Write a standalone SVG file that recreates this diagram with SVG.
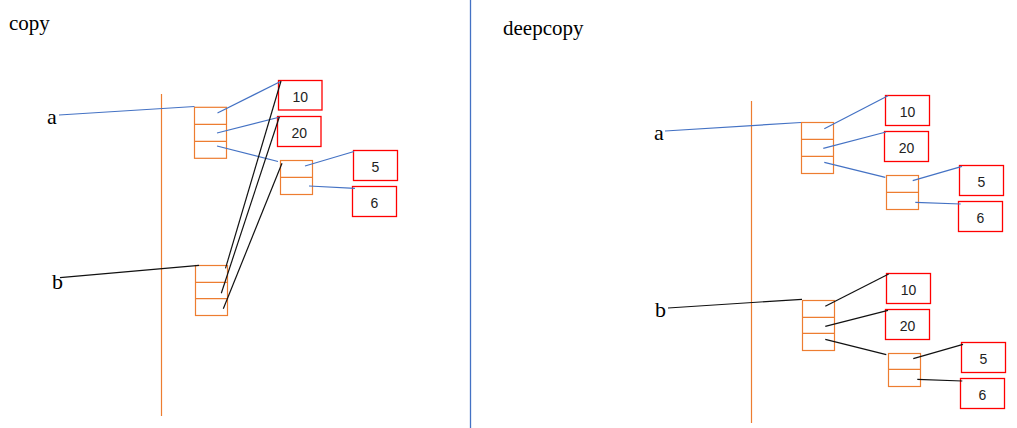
<svg xmlns="http://www.w3.org/2000/svg" width="1017" height="428" viewBox="0 0 1017 428">
<style>
.title{font-family:"Liberation Serif",serif;font-size:21px;fill:#000}
.var{font-family:"Liberation Serif",serif;font-size:22px;fill:#000}
.val{font-family:"Liberation Sans",sans-serif;font-size:14px;fill:#222;text-anchor:middle}
.box{fill:#fff;stroke:#FF0000;stroke-width:1.3}
.cell{fill:#fff;stroke:#ED7D31;stroke-width:1.2}
.div{stroke:#ED7D31;stroke-width:1.2}
.stack{stroke:#ED7D31;stroke-width:1.2}
.blue{stroke:#4472C4;stroke-width:1.2;fill:none}
.black{stroke:#111;stroke-width:1.2;fill:none}
</style>
<rect width="1017" height="428" fill="#fff"/>
<line x1="470.5" y1="0" x2="470.5" y2="428" stroke="#4472C4" stroke-width="1.3"/>

<g id="copy-panel">
<text class="title" x="9" y="29.5">copy</text>
<line class="stack" x1="161.5" y1="94" x2="161.5" y2="416"/>
<text class="var" x="47" y="124">a</text>
<text class="var" x="52" y="289">b</text>
</g>

<g id="copy-a-list">
<rect class="cell" x="194.5" y="107.3" width="32" height="51"/>
<line class="div" x1="194.5" y1="124.3" x2="226.5" y2="124.3"/>
<line class="div" x1="194.5" y1="141.3" x2="226.5" y2="141.3"/>
</g>
<g id="copy-inner-list">
<rect class="cell" x="280.5" y="160.5" width="32" height="34"/>
<line class="div" x1="280.5" y1="177.3" x2="312.5" y2="177.3"/>
</g>
<g id="copy-b-list">
<rect class="cell" x="195.5" y="265.5" width="32" height="50"/>
<line class="div" x1="195.5" y1="282.3" x2="227.5" y2="282.3"/>
<line class="div" x1="195.5" y1="298.7" x2="227.5" y2="298.7"/>
</g>
<g id="copy-10"><rect class="box" x="278.5" y="80.5" width="43.5" height="29.5"/><text class="val" x="300.3" y="102">10</text></g>
<g id="copy-20"><rect class="box" x="277.5" y="116.5" width="43.5" height="30"/><text class="val" x="299.3" y="138">20</text></g>
<g id="copy-5"><rect class="box" x="353.5" y="150.5" width="44" height="30"/><text class="val" x="375.5" y="172">5</text></g>
<g id="copy-6"><rect class="box" x="352.5" y="186.5" width="44" height="30"/><text class="val" x="374.5" y="208">6</text></g>

<g id="deepcopy-panel">
<text class="title" x="503" y="35">deepcopy</text>
<line class="stack" x1="751.5" y1="101" x2="751.5" y2="423"/>
<text class="var" x="654" y="140">a</text>
<text class="var" x="655" y="317">b</text>
</g>

<g id="deep-a-list">
<rect class="cell" x="801.5" y="122.5" width="32" height="51"/>
<line class="div" x1="801.5" y1="139.3" x2="833.5" y2="139.3"/>
<line class="div" x1="801.5" y1="156.3" x2="833.5" y2="156.3"/>
</g>
<g id="deep-a-inner">
<rect class="cell" x="886.5" y="175.5" width="32" height="34"/>
<line class="div" x1="886.5" y1="192.3" x2="918.5" y2="192.3"/>
</g>
<g id="deep-a-10"><rect class="box" x="885.5" y="95.5" width="44" height="30"/><text class="val" x="907.5" y="117">10</text></g>
<g id="deep-a-20"><rect class="box" x="884.5" y="131.5" width="44" height="30"/><text class="val" x="906.5" y="153">20</text></g>
<g id="deep-a-5"><rect class="box" x="959.5" y="165.5" width="44" height="30"/><text class="val" x="981.5" y="187">5</text></g>
<g id="deep-a-6"><rect class="box" x="958.5" y="201.5" width="44" height="30"/><text class="val" x="980.5" y="223">6</text></g>

<g id="deep-b-list">
<rect class="cell" x="802.5" y="300.5" width="32" height="50"/>
<line class="div" x1="802.5" y1="317.3" x2="834.5" y2="317.3"/>
<line class="div" x1="802.5" y1="333.3" x2="834.5" y2="333.3"/>
</g>
<g id="deep-b-inner">
<rect class="cell" x="888.5" y="353.5" width="32" height="33"/>
<line class="div" x1="888.5" y1="369.3" x2="920.5" y2="369.3"/>
</g>
<g id="deep-b-10"><rect class="box" x="886.5" y="273.5" width="44" height="30"/><text class="val" x="908.5" y="295">10</text></g>
<g id="deep-b-20"><rect class="box" x="885.5" y="309.5" width="44" height="30"/><text class="val" x="907.5" y="331">20</text></g>
<g id="deep-b-5"><rect class="box" x="961.5" y="342.5" width="44" height="30"/><text class="val" x="983.5" y="364">5</text></g>
<g id="deep-b-6"><rect class="box" x="960.5" y="378.5" width="44" height="30"/><text class="val" x="982.5" y="400">6</text></g>

<g id="connectors">
<line class="blue" x1="59" y1="115" x2="194.5" y2="106.5"/>
<line class="blue" x1="217.5" y1="113" x2="280.5" y2="81.5"/>
<line class="blue" x1="217" y1="133" x2="280" y2="117"/>
<line class="blue" x1="217" y1="146" x2="278" y2="161.5"/>
<line class="blue" x1="305" y1="166" x2="354" y2="151.5"/>
<line class="blue" x1="309" y1="186" x2="355" y2="188.3"/>
<line class="black" x1="60" y1="277.7" x2="199" y2="265.3"/>
<line class="black" x1="225.5" y1="268.3" x2="281" y2="81"/>
<line class="black" x1="221.3" y1="293.3" x2="279.3" y2="117"/>
<line class="black" x1="223.3" y1="308.7" x2="282" y2="163.3"/>

<line class="blue" x1="665" y1="131" x2="801" y2="122.5"/>
<line class="blue" x1="824.3" y1="128.7" x2="888" y2="95.7"/>
<line class="blue" x1="823.3" y1="148.3" x2="886" y2="132"/>
<line class="blue" x1="824.3" y1="162.3" x2="885.3" y2="177.3"/>
<line class="blue" x1="912.7" y1="180.7" x2="962" y2="166.3"/>
<line class="blue" x1="915.3" y1="202.3" x2="960.7" y2="204"/>
<line class="black" x1="668" y1="308" x2="802" y2="299.3"/>
<line class="black" x1="825.3" y1="306.3" x2="888.7" y2="274"/>
<line class="black" x1="825.3" y1="326.3" x2="888" y2="310.3"/>
<line class="black" x1="825.3" y1="339.3" x2="886.3" y2="354.7"/>
<line class="black" x1="913.3" y1="358.7" x2="963" y2="344.3"/>
<line class="black" x1="917.3" y1="379.3" x2="962.3" y2="381"/>
</g>
</svg>
